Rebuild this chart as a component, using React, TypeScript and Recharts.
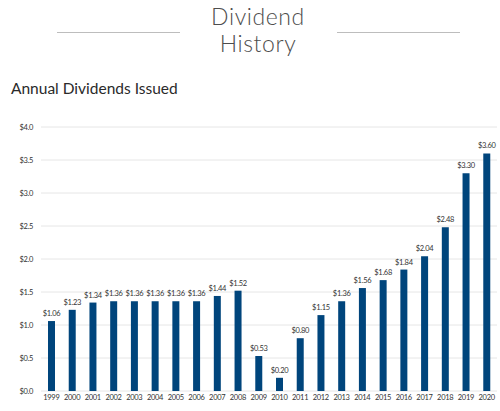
import React from 'react';
import { BarChart, Bar, XAxis, YAxis, CartesianGrid, LabelList } from 'recharts';

const years = ['1999', '2000', '2001', '2002', '2003', '2004', '2005', '2006', '2007', '2008', '2009',
  '2010', '2011', '2012', '2013', '2014', '2015', '2016', '2017', '2018', '2019', '2020'];
const dividends = [1.06, 1.23, 1.34, 1.36, 1.36, 1.36, 1.36, 1.36, 1.44, 1.52, 0.53,
  0.2, 0.8, 1.15, 1.36, 1.56, 1.68, 1.84, 2.04, 2.48, 3.3, 3.6];
const yTicks = [0, 0.5, 1, 1.5, 2, 2.5, 3, 3.5, 4];

const data = years.map((year, i) => ({ year, value: dividends[i] }));

const BAR_COLOR = '#00457c';
const FONT = 'Lato, "Open Sans", sans-serif';
const smallText = { fontSize: 7.5, fill: '#333', fontFamily: FONT, letterSpacing: -0.3 };

export default function App() {
  return (
    <div style={{ position: 'absolute', left: 0, top: 0, width: 500, height: 411, background: '#fff', fontFamily: FONT }}>
      {/* header */}
      <div style={{ position: 'absolute', left: 57, top: 32, width: 123, height: 1, background: '#bdbdbd' }} />
      <div style={{ position: 'absolute', left: 337, top: 32, width: 123, height: 1, background: '#bdbdbd' }} />
      <div style={{ position: 'absolute', left: 158, top: 3, width: 200, textAlign: 'center', fontSize: 23, fontWeight: 300, lineHeight: '27px', color: '#4d4d4d', letterSpacing: 0.6 }}>
        Dividend<br />History
      </div>
      <div style={{ position: 'absolute', left: 11, top: 79, fontSize: 15.5, color: '#2a2a2a' }}>
        Annual Dividends Issued
      </div>

      <div style={{ position: 'absolute', left: 0, top: 0 }}>
        <BarChart width={500} height={411} data={data} margin={{ top: 127, right: 3, bottom: 2, left: 0 }}>
          <CartesianGrid vertical={false} stroke="#e6e6e6" />
          <XAxis
            dataKey="year"
            axisLine={false}
            tickLine={false}
            tickSize={2}
            height={18}
            interval={0}
            tick={smallText}
          />
          <YAxis
            domain={[0, 4]}
            ticks={yTicks}
            axisLine={false}
            tickLine={false}
            width={41}
            tickFormatter={(v: number) => `$${v.toFixed(1)}`}
            tick={smallText}
          />
          <Bar dataKey="value" fill={BAR_COLOR} barSize={7} isAnimationActive={false}>
            <LabelList
              dataKey="value"
              position="top"
              offset={5}
              formatter={(v: number) => `$${v.toFixed(2)}`}
              style={smallText}
            />
          </Bar>
        </BarChart>
      </div>
    </div>
  );
}
